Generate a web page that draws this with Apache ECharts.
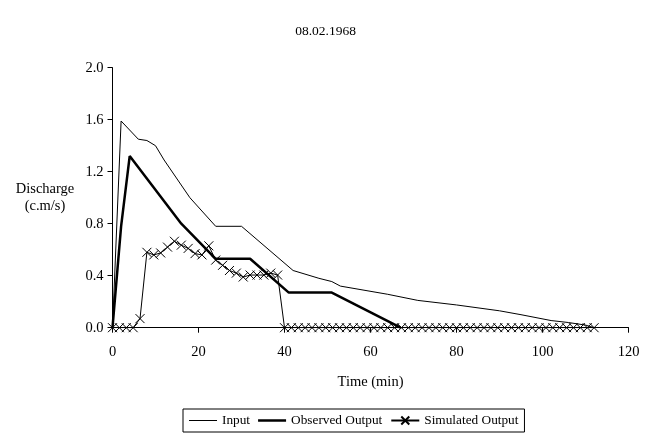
<!DOCTYPE html>
<html><head><meta charset="utf-8">
<script src="https://cdn.jsdelivr.net/npm/echarts@6/dist/echarts.min.js"></script>
<style>html,body{margin:0;padding:0;background:#fff}#c{width:651px;height:438px}</style>
</head><body><div id="c"></div>
<script>
var title = "08.02.1968";
var xTicks = [0, 20, 40, 60, 80, 100, 120];
var yTicks = [0.0, 0.4, 0.8, 1.2, 1.6, 2.0];

var inputT = [0, 2, 6, 8, 10, 12, 18, 24, 30, 42, 48, 51, 53, 64, 71, 80, 90, 95, 102, 106, 110, 112];
var inputV = [0, 1.59, 1.45, 1.44, 1.40, 1.29, 1.00, 0.78, 0.78, 0.44, 0.38, 0.355, 0.32, 0.257, 0.21, 0.175, 0.13, 0.10, 0.055, 0.04, 0.02, 0];

var obsT = [0, 2, 4, 16, 24, 32, 41, 51, 67];
var obsV = [0, 0.78, 1.32, 0.80, 0.53, 0.53, 0.27, 0.27, 0];

var simT = [0, 1.6, 3.2, 4.8, 6.4, 8.0, 9.6, 11.2, 12.8, 14.4, 16.0, 17.6, 19.2, 20.8, 22.4, 24.0, 25.6, 27.2, 28.8, 30.4, 32.0, 33.6, 35.2, 36.8, 38.4,
  40.0, 41.6, 43.2, 44.8, 46.4, 48.0, 49.6, 51.2, 52.8, 54.4, 56.0, 57.6, 59.2, 60.8, 62.4, 64.0, 65.6, 67.2, 68.8, 70.4, 72.0, 73.6, 75.2, 76.8, 78.4,
  80.0, 81.6, 83.2, 84.8, 86.4, 88.0, 89.6, 91.2, 92.8, 94.4, 96.0, 97.6, 99.2, 100.8, 102.4, 104.0, 105.6, 107.2, 108.8, 110.4, 112.0];
var simV = [0, 0, 0, 0, 0.07, 0.58, 0.56, 0.575, 0.62, 0.665, 0.635, 0.61, 0.57, 0.56, 0.63, 0.52, 0.48, 0.44, 0.42, 0.39, 0.405, 0.405, 0.405, 0.42, 0.405,
  0, 0, 0, 0, 0, 0, 0, 0, 0, 0, 0, 0, 0, 0, 0, 0, 0, 0, 0, 0, 0, 0, 0, 0, 0,
  0, 0, 0, 0, 0, 0, 0, 0, 0, 0, 0, 0, 0, 0, 0, 0, 0, 0, 0, 0, 0];

function pairs(t, v) { return t.map(function (x, i) { return [x, v[i]]; }); }

var FONT = '"Liberation Serif", "Times New Roman", serif';
var chart = echarts.init(document.getElementById('c'), null, {renderer: 'canvas'});
var xMark = 'path://M0,0L10,10M10,0L0,10';
chart.setOption({
  animation: false,
  backgroundColor: '#fff',
  textStyle: {fontFamily: FONT, color: '#000'},
  title: {text: title, left: 'center', top: 19,
    textStyle: {fontFamily: FONT, fontSize: 13.5, fontWeight: 'normal', color: '#000'}},
  grid: {left: 112.5, right: 22.5, top: 67.7, bottom: 110.3, containLabel: false},
  xAxis: {
    type: 'value', min: xTicks[0], max: xTicks[xTicks.length - 1], interval: 20,
    name: 'Time (min)', nameLocation: 'middle', nameGap: 47,
    nameTextStyle: {fontFamily: FONT, fontSize: 14.5, color: '#000'},
    axisLine: {lineStyle: {color: '#000', width: 1}},
    axisTick: {show: true, inside: false, length: 5, lineStyle: {color: '#000'}},
    axisLabel: {fontFamily: FONT, fontSize: 14.5, color: '#000', margin: 17},
    splitLine: {show: false}
  },
  yAxis: {
    type: 'value', min: yTicks[0], max: yTicks[yTicks.length - 1], interval: 0.4,
    axisLine: {show: true, lineStyle: {color: '#000', width: 1}},
    axisTick: {show: true, inside: false, length: 5, lineStyle: {color: '#000'}},
    axisLabel: {fontFamily: FONT, fontSize: 14.5, color: '#000', margin: 9,
      formatter: function (v) { return v.toFixed(1); }},
    splitLine: {show: false}
  },
  legend: {
    left: 183, top: 409, orient: 'horizontal',
    borderColor: '#000', borderWidth: 1, borderRadius: 0, padding: [5, 6, 5, 6],
    itemWidth: 28, itemHeight: 10, itemGap: 8,
    textStyle: {fontFamily: FONT, fontSize: 13.3, color: '#000'},
    data: [
      {name: 'Input', icon: 'path://M0,0L28,0L28,1L0,1Z'},
      {name: 'Observed Output', icon: 'path://M0,0L28,0L28,2.5L0,2.5Z'},
      {name: 'Simulated Output'}
    ]
  },
  graphic: [
    {type: 'text', x: 45, y: 182, style: {text: 'Discharge', font: '14.5px ' + FONT, fill: '#000', align: 'center'}},
    {type: 'text', x: 45, y: 199, style: {text: '(c.m/s)', font: '14.5px ' + FONT, fill: '#000', align: 'center'}}
  ],
  series: [
    {name: 'Input', type: 'line', data: pairs(inputT, inputV), symbol: 'none',
      lineStyle: {color: '#000', width: 1}, itemStyle: {color: '#000'}},
    {name: 'Observed Output', type: 'line', data: pairs(obsT, obsV), symbol: 'none',
      lineStyle: {color: '#000', width: 2.5}, itemStyle: {color: '#000'}},
    {name: 'Simulated Output', type: 'line', data: pairs(simT, simV), symbol: xMark, symbolSize: 9,
      lineStyle: {color: '#000', width: 1},
      itemStyle: {color: '#000', borderColor: '#000', borderWidth: 1}}
  ]
});
</script></body></html>
